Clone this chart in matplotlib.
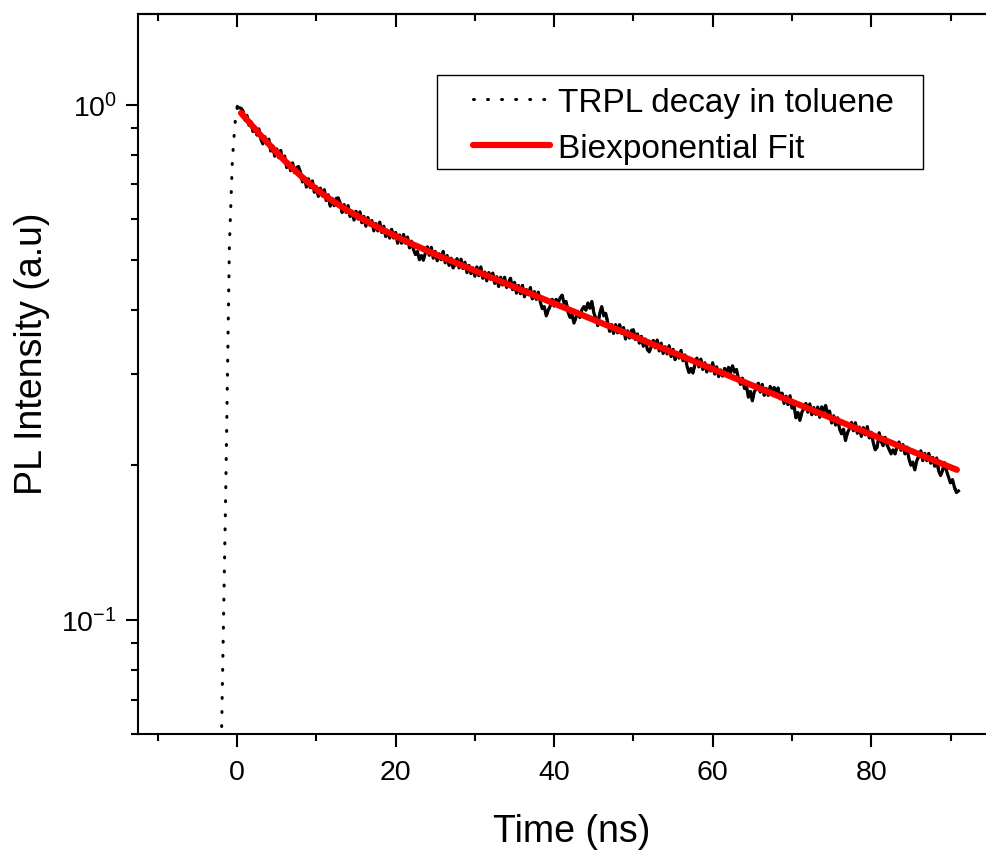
import numpy as np
import matplotlib
matplotlib.use('Agg')
import matplotlib.pyplot as plt
from matplotlib.ticker import LogLocator, NullFormatter
from matplotlib.patches import Rectangle

plt.rcParams['font.family'] = ['Liberation Sans', 'DejaVu Sans']
plt.rcParams['mathtext.fontset'] = 'custom'
plt.rcParams['mathtext.rm'] = 'Liberation Sans'

# TRPL 数据: 时间 (ns) 与 log10(归一化强度)
time_ns = [
    -3.0, -2.3, -2.05, -1.96, -1.77, -1.6, -1.45, -1.26, -1.07, -0.97,
    -0.88, -0.76, -0.67, -0.59, -0.47, -0.34, -0.21, 0.04, 0.25,
    0.5, 0.75, 1.0, 1.25, 1.5, 1.75, 2.0, 2.25, 2.5, 2.75,
    3.0, 3.25, 3.5, 3.75, 4.0, 4.25, 4.5, 4.75, 5.0, 5.25, 5.5, 5.75,
    6.0, 6.25, 6.5, 6.75, 7.0, 7.25, 7.5, 7.75, 8.0, 8.25, 8.5, 8.75,
    9.0, 9.25, 9.5, 9.75, 10.0, 10.25, 10.5, 10.75, 11.0, 11.25, 11.5, 11.75,
    12.0, 12.25, 12.5, 12.75, 13.0, 13.25, 13.5, 13.75, 14.0, 14.25, 14.5, 14.75,
    15.0, 15.25, 15.5, 15.75, 16.0, 16.25, 16.5, 16.75, 17.0, 17.25, 17.5, 17.75,
    18.0, 18.25, 18.5, 18.75, 19.0, 19.25, 19.5, 19.75, 20.0, 20.25, 20.5, 20.75,
    21.0, 21.25, 21.5, 21.75, 22.0, 22.25, 22.5, 22.75, 23.0, 23.25, 23.5, 23.75,
    24.0, 24.25, 24.5, 24.75, 25.0, 25.25, 25.5, 25.75, 26.0, 26.25, 26.5, 26.75,
    27.0, 27.25, 27.5, 27.75, 28.0, 28.25, 28.5, 28.75, 29.0, 29.25, 29.5, 29.75,
    30.0, 30.25, 30.5, 30.75, 31.0, 31.25, 31.5, 31.75, 32.0, 32.25, 32.5, 32.75,
    33.0, 33.25, 33.5, 33.75, 34.0, 34.25, 34.5, 34.75, 35.0, 35.25, 35.5, 35.75,
    36.0, 36.25, 36.5, 36.75, 37.0, 37.25, 37.5, 37.75, 38.0, 38.25, 38.5, 38.75,
    39.0, 39.25, 39.5, 39.75, 40.0, 40.25, 40.5, 40.75, 41.0, 41.25, 41.5, 41.75,
    42.0, 42.25, 42.5, 42.75, 43.0, 43.25, 43.5, 43.75, 44.0, 44.25, 44.5, 44.75,
    45.0, 45.25, 45.5, 45.75, 46.0, 46.25, 46.5, 46.75, 47.0, 47.25, 47.5, 47.75,
    48.0, 48.25, 48.5, 48.75, 49.0, 49.25, 49.5, 49.75, 50.0, 50.25, 50.5, 50.75,
    51.0, 51.25, 51.5, 51.75, 52.0, 52.25, 52.5, 52.75, 53.0, 53.25, 53.5, 53.75,
    54.0, 54.25, 54.5, 54.75, 55.0, 55.25, 55.5, 55.75, 56.0, 56.25, 56.5, 56.75,
    57.0, 57.25, 57.5, 57.75, 58.0, 58.25, 58.5, 58.75, 59.0, 59.25, 59.5, 59.75,
    60.0, 60.25, 60.5, 60.75, 61.0, 61.25, 61.5, 61.75, 62.0, 62.25, 62.5, 62.75,
    63.0, 63.25, 63.5, 63.75, 64.0, 64.25, 64.5, 64.75, 65.0, 65.25, 65.5, 65.75,
    66.0, 66.25, 66.5, 66.75, 67.0, 67.25, 67.5, 67.75, 68.0, 68.25, 68.5, 68.75,
    69.0, 69.25, 69.5, 69.75, 70.0, 70.25, 70.5, 70.75, 71.0, 71.25, 71.5, 71.75,
    72.0, 72.25, 72.5, 72.75, 73.0, 73.25, 73.5, 73.75, 74.0, 74.25, 74.5, 74.75,
    75.0, 75.25, 75.5, 75.75, 76.0, 76.25, 76.5, 76.75, 77.0, 77.25, 77.5, 77.75,
    78.0, 78.25, 78.5, 78.75, 79.0, 79.25, 79.5, 79.75, 80.0, 80.25, 80.5, 80.75,
    81.0, 81.25, 81.5, 81.75, 82.0, 82.25, 82.5, 82.75, 83.0, 83.25, 83.5, 83.75,
    84.0, 84.25, 84.5, 84.75, 85.0, 85.25, 85.5, 85.75, 86.0, 86.25, 86.5, 86.75,
    87.0, 87.25, 87.5, 87.75, 88.0, 88.25, 88.5, 88.75, 89.0, 89.25, 89.5, 89.75,
    90.0, 90.25, 90.5, 90.75, 91.0,
]
log_intensity = [
    -2.000, -1.523, -1.301, -1.224, -1.059, -0.903, -0.767, -0.572, -0.378, -0.274,
    -0.235, -0.177, -0.138, -0.106, -0.080, -0.053, -0.028, -0.004, -0.006,
    -0.007, -0.012, -0.030, -0.021, -0.040, -0.033, -0.052, -0.043, -0.059, -0.047,
    -0.067, -0.076, -0.062, -0.076, -0.067, -0.090, -0.080, -0.100, -0.086, -0.103, -0.089, -0.108,
    -0.100, -0.122, -0.112, -0.128, -0.113, -0.132, -0.122, -0.120, -0.132, -0.150, -0.142, -0.160,
    -0.144, -0.161, -0.148, -0.170, -0.159, -0.178, -0.162, -0.177, -0.165, -0.186, -0.175, -0.197,
    -0.182, -0.196, -0.182, -0.181, -0.191, -0.209, -0.194, -0.209, -0.196, -0.217, -0.207, -0.224,
    -0.207, -0.222, -0.208, -0.229, -0.217, -0.236, -0.219, -0.234, -0.225, -0.245, -0.231, -0.245,
    -0.228, -0.248, -0.236, -0.256, -0.244, -0.259, -0.242, -0.259, -0.248, -0.269, -0.253, -0.269,
    -0.252, -0.269, -0.257, -0.278, -0.265, -0.281, -0.291, -0.285, -0.301, -0.293, -0.302, -0.288,
    -0.276, -0.292, -0.277, -0.298, -0.285, -0.303, -0.290, -0.301, -0.285, -0.307, -0.293, -0.312,
    -0.298, -0.317, -0.310, -0.299, -0.317, -0.300, -0.318, -0.306, -0.326, -0.312, -0.328, -0.317,
    -0.333, -0.315, -0.332, -0.315, -0.337, -0.325, -0.342, -0.326, -0.339, -0.327, -0.347, -0.334,
    -0.353, -0.335, -0.350, -0.335, -0.355, -0.345, -0.337, -0.359, -0.345, -0.366, -0.351, -0.367,
    -0.351, -0.373, -0.359, -0.369, -0.355, -0.377, -0.363, -0.378, -0.364, -0.383, -0.396, -0.392,
    -0.410, -0.399, -0.391, -0.378, -0.391, -0.378, -0.385, -0.375, -0.370, -0.385, -0.382, -0.403,
    -0.413, -0.408, -0.424, -0.413, -0.402, -0.413, -0.398, -0.392, -0.399, -0.385, -0.395, -0.382,
    -0.404, -0.415, -0.429, -0.405, -0.392, -0.410, -0.405, -0.423, -0.440, -0.427, -0.444, -0.427,
    -0.443, -0.427, -0.444, -0.433, -0.455, -0.439, -0.453, -0.438, -0.437, -0.456, -0.445, -0.463,
    -0.450, -0.469, -0.455, -0.475, -0.480, -0.470, -0.458, -0.472, -0.457, -0.478, -0.463, -0.483,
    -0.470, -0.484, -0.468, -0.489, -0.475, -0.495, -0.481, -0.492, -0.477, -0.497, -0.486, -0.507,
    -0.520, -0.512, -0.521, -0.505, -0.492, -0.509, -0.494, -0.514, -0.501, -0.519, -0.506, -0.517,
    -0.501, -0.523, -0.509, -0.528, -0.515, -0.527, -0.512, -0.520, -0.510, -0.520, -0.507, -0.519,
    -0.514, -0.532, -0.543, -0.531, -0.551, -0.546, -0.568, -0.557, -0.575, -0.557, -0.552, -0.541,
    -0.558, -0.543, -0.564, -0.551, -0.564, -0.547, -0.557, -0.549, -0.556, -0.550, -0.571, -0.560,
    -0.580, -0.566, -0.582, -0.565, -0.589, -0.584, -0.608, -0.598, -0.613, -0.597, -0.590, -0.580,
    -0.597, -0.581, -0.602, -0.588, -0.601, -0.587, -0.607, -0.587, -0.594, -0.584, -0.601, -0.595,
    -0.618, -0.604, -0.622, -0.608, -0.629, -0.639, -0.630, -0.652, -0.637, -0.629, -0.617, -0.633,
    -0.618, -0.638, -0.626, -0.644, -0.627, -0.641, -0.625, -0.647, -0.636, -0.656, -0.670, -0.665,
    -0.637, -0.654, -0.662, -0.646, -0.661, -0.669, -0.678, -0.670, -0.678, -0.665, -0.655, -0.671,
    -0.660, -0.678, -0.665, -0.687, -0.700, -0.694, -0.709, -0.691, -0.683, -0.672, -0.691, -0.677,
    -0.691, -0.677, -0.696, -0.685, -0.702, -0.686, -0.711, -0.720, -0.710, -0.695, -0.711, -0.723,
    -0.734, -0.728, -0.743, -0.753, -0.750,
]

# 双指数拟合曲线
fit_time = [0.5, 1, 2, 3, 4, 5, 6, 7, 8, 9, 10, 11, 12, 13, 14, 15, 16, 17,
            18, 19, 20, 21, 22, 23, 24, 25, 30, 35, 40, 45, 50, 55, 60, 65,
            70, 75, 80, 85, 90, 90.8]
fit_intensity = [0.9635, 0.9443, 0.9070, 0.8711, 0.8386, 0.8072, 0.7787,
                 0.7530, 0.7283, 0.7057, 0.6855, 0.6673, 0.6511, 0.6366,
                 0.6226, 0.6101, 0.5980, 0.5861, 0.5756, 0.5653, 0.5554,
                 0.5460, 0.5370, 0.5287, 0.5204, 0.5123, 0.4761, 0.4425,
                 0.4112, 0.3822, 0.3552, 0.3301, 0.3068, 0.2851, 0.2650,
                 0.2463, 0.2289, 0.2128, 0.1977, 0.1955]

x_major = [0, 20, 40, 60, 80]
x_minor = [-10, 10, 30, 50, 70, 90]

t = np.array(time_ns)
intensity = 10 ** np.array(log_intensity)
decay = t >= 0  # 衰减段数据点很密，原图中点线连成一片

fig = plt.figure(figsize=(9.87, 8.53), dpi=100)
ax = fig.add_axes([138 / 987, 118 / 853, 868 / 987, 720 / 853])

ax.plot(t, intensity, color='black', linewidth=2.2,
        linestyle=(0, (0.3, 4.3)), dash_capstyle='round',
        label='TRPL decay in toluene', zorder=2)
ax.plot(t[decay], intensity[decay], color='black', linewidth=2.3,
        solid_joinstyle='round', zorder=2)
ax.plot(fit_time, fit_intensity, color='#ff0000', linewidth=4.5,
        solid_capstyle='round', label='Biexponential Fit', zorder=3)

ax.set_yscale('log')
ax.set_xlim(-12.5, 97)
ax.set_ylim(0.06, 1.5)

ax.set_xticks(x_major)
ax.set_xticks(x_minor, minor=True)
ax.yaxis.set_major_locator(LogLocator(base=10, numticks=10))
ax.yaxis.set_minor_locator(LogLocator(base=10, subs=np.arange(2, 10), numticks=10))
ax.yaxis.set_minor_formatter(NullFormatter())

ax.tick_params(which='both', direction='out', width=1.5, labelsize=20.5)
ax.tick_params(which='major', length=9)
ax.tick_params(which='minor', length=5)
ax.tick_params(axis='x', pad=9)
ax.tick_params(axis='y', pad=6)
for sp in ax.spines.values():
    sp.set_linewidth(1.5)

# 顶部刻度朝内
top = ax.secondary_xaxis('top')
top.set_xticks(x_major)
top.set_xticks(x_minor, minor=True)
top.tick_params(which='both', direction='in', width=1.5, labeltop=False)
top.tick_params(which='major', length=9)
top.tick_params(which='minor', length=5)
top.spines['top'].set_linewidth(1.5)

ax.set_xlabel('Time (ns)', fontsize=27, labelpad=20)
ax.set_ylabel('PL Intensity (a.u)', fontsize=27)
ax.yaxis.set_label_coords(-0.101, 0.529)

ax.legend(loc='upper left', bbox_to_anchor=(473 / 987, 1 - 88 / 853),
          bbox_transform=fig.transFigure, frameon=False, fontsize=24,
          borderpad=0, borderaxespad=0, handlelength=2.3, handletextpad=0.25,
          labelspacing=0.44)
fig.add_artist(Rectangle((437 / 987, 1 - 170 / 853), 486 / 987, 94 / 853,
                         transform=fig.transFigure, fill=False,
                         edgecolor='black', linewidth=1.0))

fig.savefig('out.png', dpi=100)
plt.close(fig)
